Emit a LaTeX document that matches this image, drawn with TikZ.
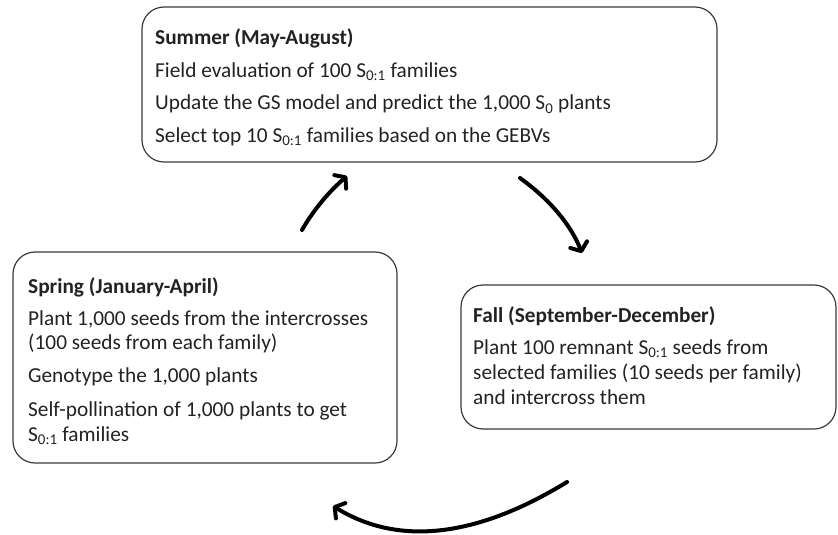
\documentclass[tikz,border=0pt]{standalone}
\usepackage{fontspec}
\setmainfont{Carlito}
\usetikzlibrary{arrows.meta}
\definecolor{ink}{HTML}{222222}
\definecolor{frame}{HTML}{3A3A3A}
\begin{document}
\begin{tikzpicture}[x=1pt,y=-1pt,
  box/.style={draw=frame, line width=1.2pt, rounded corners=22pt, rectangle, inner sep=0pt},
  txt/.style={anchor=base west, inner sep=0pt, text=ink, font=\fontsize{21.3}{25}\selectfont},
  cyc/.style={line width=4pt, line cap=round, -{Straight Barb[length=7pt,width=18pt,line cap=round,line join=round]}}]
\useasboundingbox (0,0) rectangle (838,535);
% boxes
\node[box, minimum width=575pt, minimum height=155pt] (summer) at (429.5,84.5) {};
\node[box, minimum width=384pt, minimum height=211pt] (spring) at (205,357.5) {};
\node[box, minimum width=375pt, minimum height=144pt] (fall) at (648.5,357) {};
% summer text
\node[txt] (su0) at (155,45) {\bfseries Summer (May-August)};
\node[txt] (su1) at (155,77.5) {Field evaluation of 100 S\textsubscript{0:1} families};
\node[txt] (su2) at (155,110) {Update the GS model and predict the 1,000 S\textsubscript{0} plants};
\node[txt] (su3) at (155,142) {Select top 10 S\textsubscript{0:1} families based on the GEBVs};
% spring text
\node[txt] (sp0) at (28,293) {\bfseries Spring (January-April)};
\node[txt] (sp1) at (28,325) {Plant 1,000 seeds from the intercrosses};
\node[txt] (sp2) at (28,349) {(100 seeds from each family)};
\node[txt] (sp3) at (28,382) {Genotype the 1,000 plants};
\node[txt] (sp4) at (28,416) {Self-pollination of 1,000 plants to get};
\node[txt] (sp5) at (28,441) {S\textsubscript{0:1} families};
% fall text
\node[txt] (fa0) at (473,322) {\bfseries Fall (September-December)};
\node[txt] (fa1) at (473,354) {Plant 100 remnant S\textsubscript{0:1} seeds from};
\node[txt] (fa2) at (473,379) {selected families (10 seeds per family)};
\node[txt] (fa3) at (473,404) {and intercross them};
% cycle arrows
\coordinate (a1s) at (302,230); \coordinate (a1e) at (347,176);
\coordinate (a2s) at (520,178); \coordinate (a2e) at (582,253);
\coordinate (a3s) at (567,482); \coordinate (a3e) at (333,506);
\draw[cyc] (a1s) .. controls (313.3,210.3) and (328.3,192.3) .. (a1e);
\draw[cyc] (a2s) .. controls (550,199.7) and (570.7,224.7) .. (a2e);
\draw[cyc] (a3s) .. controls (475.7,538) and (397.7,546) .. (a3e);
\end{tikzpicture}
\end{document}
